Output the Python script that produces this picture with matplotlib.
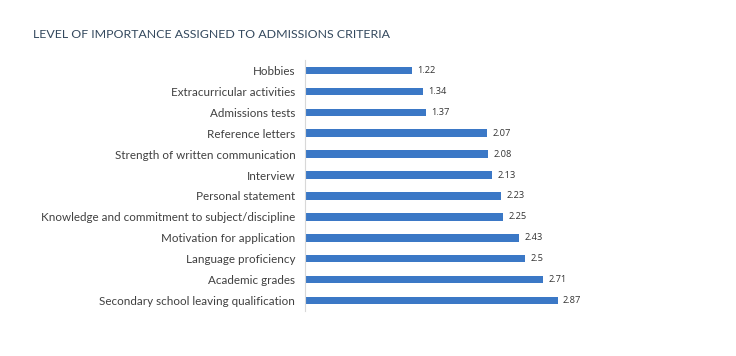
import matplotlib
matplotlib.use("Agg")
import matplotlib.pyplot as plt

plt.rcParams['font.family'] = ['Lato', 'DejaVu Sans']

criteria = [
    "Hobbies",
    "Extracurricular activities",
    "Admissions tests",
    "Reference letters",
    "Strength of written communication",
    "Interview",
    "Personal statement",
    "Knowledge and commitment to subject/discipline",
    "Motivation for application",
    "Language proficiency",
    "Academic grades",
    "Secondary school leaving qualification",
]
scores = [1.22, 1.34, 1.37, 2.07, 2.08, 2.13, 2.23, 2.25, 2.43, 2.5, 2.71, 2.87]
score_labels = ["1.22", "1.34", "1.37", "2.07", "2.08", "2.13", "2.23", "2.25", "2.43", "2.5", "2.71", "2.87"]

fig = plt.figure(figsize=(7.36, 3.56), dpi=100)
ax = fig.add_axes([305 / 736, 45 / 356, 352 / 736, 251 / 356])

y = list(range(len(criteria)))
ax.barh(y, scores, height=0.36, color="#3b78c6")
for yi, s, lab in zip(y, scores, score_labels):
    ax.text(s + 0.06, yi, lab, va="center", ha="left", fontsize=6.7,
            color="#333333", family=["Open Sans", "DejaVu Sans"])

ax.set_xlim(0, 4)
ax.set_ylim(len(criteria) - 0.5, -0.5)
ax.set_yticks(y)
ax.set_yticklabels(criteria, fontsize=8.35, color="#404040")
ax.tick_params(axis="y", length=0, pad=7)
ax.set_xticks([])
for side in ["top", "right", "bottom"]:
    ax.spines[side].set_visible(False)
ax.spines["left"].set_color("#d8d8d8")
ax.spines["left"].set_linewidth(0.8)

fig.text(33 / 736, 1 - 34 / 356, "LEVEL OF IMPORTANCE ASSIGNED TO ADMISSIONS CRITERIA",
         fontsize=8.9, color="#34495e", va="center", ha="left")

fig.savefig("out.png", dpi=100)
